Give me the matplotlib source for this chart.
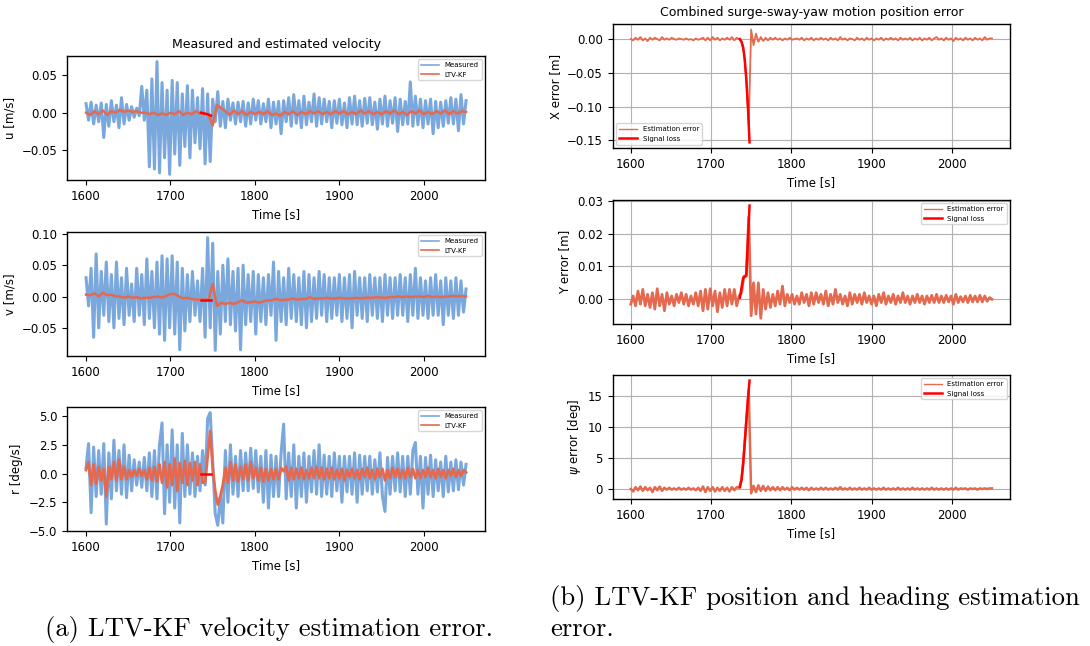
import numpy as np
import matplotlib
matplotlib.use('Agg')
import matplotlib.pyplot as plt

'''Time bases'''
t3 = np.arange(1600, 2051, 3)
t5 = np.arange(1600, 2051, 5)
t_loss = np.arange(1736, 1749, 2)

'''Velocity data (left figure)'''
u_meas = [0.012, -0.010, 0.014, -0.015, 0.010, -0.012, 0.013, -0.033, 0.011, -0.018,
          0.016, -0.012, 0.010, -0.020, 0.020, -0.015, 0.011, -0.010, 0.008, -0.006,
          0.006, -0.004, 0.035, -0.010, 0.030, -0.072, 0.045, -0.075, 0.068, -0.080,
          0.040, -0.060, 0.030, -0.082, 0.043, -0.055, 0.040, -0.070, 0.025, -0.045,
          0.036, -0.060, 0.030, -0.040, 0.020, -0.048, 0.032, -0.068, 0.025, -0.065,
          0.018, -0.012, 0.028, -0.018, 0.015, -0.020, 0.018, -0.010, 0.013, -0.015,
          0.014, -0.012, 0.015, -0.018, 0.013, -0.015, 0.018, -0.010, 0.016, -0.015,
          0.012, -0.012, 0.018, -0.020, 0.014, -0.015, 0.015, -0.028, 0.016, -0.012,
          0.020, -0.018, 0.024, -0.014, 0.016, -0.020, 0.022, -0.016, 0.014, -0.012,
          0.025, -0.018, 0.020, -0.015, 0.018, -0.012, 0.015, -0.020, 0.016, -0.014,
          0.018, -0.016, 0.013, -0.020, 0.020, -0.015, 0.022, -0.016, 0.016, -0.018,
          0.019, -0.014, 0.020, -0.016, 0.014, -0.022, 0.018, -0.015, 0.022, -0.018,
          0.016, -0.014, 0.020, -0.025, 0.018, -0.016, 0.015, -0.015, 0.041, -0.018,
          0.022, -0.016, 0.018, -0.020, 0.016, -0.015, 0.018, -0.028, 0.015, -0.020,
          0.014, -0.018, 0.016, -0.014, 0.020, -0.015, 0.018, -0.024, 0.024, -0.015,
          0.016]
u_est = [0.000, -0.003, 0.002, -0.002, 0.003, -0.003, 0.002, 0.000, 0.004, 0.001,
         0.003, 0.001, 0.002, 0.000, 0.000, -0.002, 0.000, -0.003, -0.001, -0.003,
         0.000, -0.002, 0.002, -0.003, 0.000, -0.002, 0.002, -0.001, -0.002, -0.003,
         -0.017, 0.010, 0.006, 0.002, -0.003, 0.003, -0.002, 0.002, -0.003, 0.001,
         -0.002, 0.001, -0.002, 0.002, -0.003, -0.001, -0.004, 0.001, -0.002, 0.002,
         -0.003, 0.001, -0.002, 0.002, -0.001, 0.002, -0.002, 0.001, -0.002, 0.002,
         -0.001, 0.002, -0.002, 0.001, -0.002, 0.003, -0.001, 0.002, -0.002, 0.001,
         -0.002, 0.002, -0.001, 0.003, -0.002, 0.001, -0.003, 0.002, -0.001, 0.003,
         -0.002, 0.001, -0.002, 0.002, -0.001, 0.003, -0.002, 0.002, -0.001, 0.002,
         0.001]
u_loss = [0.000, -0.0005, -0.001, -0.0015, -0.002, -0.003, -0.004]

v_meas = [0.030, -0.015, 0.045, -0.065, 0.068, -0.050, 0.040, -0.030, 0.055, -0.040,
          0.035, -0.050, 0.055, -0.035, 0.030, -0.045, 0.045, -0.030, 0.020, -0.040,
          0.045, -0.030, 0.035, -0.045, 0.060, -0.035, 0.040, -0.050, 0.055, -0.060,
          0.065, -0.070, 0.060, -0.050, 0.065, -0.060, 0.055, -0.085, 0.045, -0.055,
          0.035, -0.040, 0.040, -0.030, 0.025, -0.040, 0.045, -0.065, 0.094, -0.050,
          0.085, -0.086, 0.040, -0.060, 0.050, -0.040, 0.060, -0.045, 0.040, -0.055,
          0.045, -0.085, 0.050, -0.045, 0.035, -0.040, 0.040, -0.060, 0.035, -0.040,
          0.030, -0.045, 0.035, -0.030, 0.055, -0.070, 0.040, -0.040, 0.030, -0.045,
          0.045, -0.035, 0.035, -0.040, 0.030, -0.045, 0.040, -0.050, 0.035, -0.040,
          0.030, -0.035, 0.040, -0.030, 0.035, -0.040, 0.030, -0.035, 0.030, -0.030,
          0.035, -0.040, 0.030, -0.035, 0.035, -0.050, 0.040, -0.030, 0.030, -0.035,
          0.030, -0.040, 0.035, -0.030, 0.030, -0.035, 0.030, -0.040, 0.035, -0.030,
          0.030, -0.035, 0.030, -0.030, 0.035, -0.030, 0.030, -0.040, 0.035, -0.030,
          0.045, -0.035, 0.030, -0.030, 0.025, -0.035, 0.030, -0.030, 0.035, -0.030,
          0.025, -0.045, 0.030, -0.030, 0.025, -0.035, 0.030, -0.030, 0.025, -0.025,
          0.012]
v_est = [0.003, 0.002, 0.005, 0.000, 0.006, 0.002, 0.003, 0.000, 0.000, -0.002,
         0.000, -0.002, -0.001, -0.003, -0.002, -0.002, -0.001, 0.000, -0.002, 0.001,
         0.004, 0.004, 0.000, -0.003, -0.002, -0.004, -0.005, -0.005, -0.005, -0.005,
         0.020, -0.015, -0.010, -0.012, -0.010, -0.012, -0.009, -0.006, -0.010, -0.009,
         -0.008, -0.010, -0.008, -0.006, -0.006, -0.004, -0.006, -0.005, -0.005, -0.003,
         -0.005, -0.004, -0.004, -0.001, -0.004, -0.003, -0.003, -0.002, -0.003, -0.003,
         -0.002, -0.003, -0.003, -0.003, -0.002, -0.003, -0.002, -0.002, -0.002, -0.001,
         -0.002, -0.002, -0.001, -0.001, 0.000, -0.001, 0.000, -0.001, 0.000, 0.000,
         -0.001, 0.001, -0.001, 0.000, -0.001, 0.000, 0.000, 0.001, 0.000, 0.001,
         0.000]
v_loss = [-0.005, -0.005, -0.005, -0.005, -0.005, -0.005, -0.005]

r_meas = [0.5, 2.6, -3.4, 2.3, -2.0, 2.0, -1.8, 2.6, -4.4, 1.8,
          -2.2, 2.9, -1.5, 2.0, -1.8, 2.5, -2.1, 1.6, -1.5, 1.2,
          -1.0, 1.0, -1.2, 1.4, -1.5, 1.8, -2.0, 2.0, -2.2, 2.5,
          4.4, -3.5, 2.5, -2.5, 3.8, -3.0, 2.5, -4.3, 3.5, -2.0,
          2.5, -1.8, 1.8, -2.0, 1.5, -1.5, 2.0, -1.0, 4.8, 5.3,
          1.0, -3.5, -4.5, -2.0, -4.3, 2.0, -2.5, 2.5, -1.8, 1.5,
          -2.0, 2.0, -1.5, 1.8, -1.5, 2.2, -1.3, 2.0, -1.6, 1.5,
          -2.5, 2.0, -3.0, 1.6, -2.0, 1.5, -2.0, 1.8, 4.3, -2.2,
          1.8, -2.0, 2.5, -3.0, 1.5, -2.0, 1.8, -2.5, 1.5, -1.6,
          2.0, -1.8, 2.5, -2.0, 1.6, -1.8, 1.5, -2.0, 1.8, -1.5,
          1.5, -2.5, 1.5, -1.6, 1.5, -1.8, 1.8, -2.5, 1.6, -1.8,
          1.5, -1.5, 1.5, -1.8, 1.2, -1.6, 1.8, -2.0, -3.3, 1.4,
          -1.8, 1.5, -1.5, 1.8, -1.6, 1.5, -2.0, 1.5, -1.8, 2.0,
          2.7, -1.8, 1.5, -3.0, 1.4, -1.8, 1.6, -2.0, 1.2, -1.5,
          1.0, -2.0, 1.5, -1.6, 1.0, -1.5, 1.2, -1.4, 1.0, -1.0,
          0.8]
r_est = [0.3, 1.0, -1.0, 0.8, -0.9, 0.6, -0.6, 0.4, -2.0, 0.6,
         -0.5, 1.0, -0.6, 1.2, -0.5, 0.6, -0.5, 0.3, -0.3, 0.3,
         -0.2, 0.4, -0.2, 0.3, -0.5, 0.5, -0.6, 0.6, -0.7, 0.8,
         -0.8, 1.0, -1.2, 0.8, -1.0, 1.3, -1.5, 0.9, -0.8, 1.1,
         -1.0, 0.9, -0.6, 1.0, -1.0, 0.8, -0.8, -0.8, 1.5, 3.7,
         0.5, -1.5, -2.7, -2.0, -1.0, 0.5, -0.8, 1.0, -0.6, 0.8,
         -0.7, 0.6, -0.5, 0.8, -0.6, 1.0, -0.4, 0.5, -0.6, 0.5,
         -0.7, 0.4, -0.6, 0.4, -0.5, 0.4, -0.5, 0.5, 0.2, 0.6,
         -0.6, 0.5, -0.5, 0.4, -0.4, 0.5, -0.5, 0.3, -0.4, 0.5,
         -0.4, 0.6, -0.4, 0.5, -0.5, 0.4, -0.4, 0.5, -0.5, 0.3,
         -0.4, 0.4, -0.6, 0.3, -0.3, 0.4, -0.4, 0.3, -0.5, 0.4,
         -0.3, 0.5, -0.4, 0.3, -0.5, 0.4, -0.3, 0.4, -0.6, 0.3,
         -0.4, 0.5, -0.3, 0.4, -0.4, 0.3, -0.4, 0.5, -0.3, 0.4,
         -0.4, 0.3, -0.4, 0.3, -0.3, 0.5, -0.3, 0.3, -0.4, 0.4,
         -0.3, 0.3, -0.4, 0.3, -0.2, 0.4, -0.3, 0.3, -0.2, 0.3,
         0.1]
r_loss = [0.0, 0.0, 0.0, 0.0, 0.0, 0.0, 0.0]

'''Position / heading error data (right figure)'''
x_err = [0.000, -0.002, 0.002, -0.001, 0.003, -0.002, 0.001, -0.003, 0.002, -0.001,
         0.002, 0.000, -0.002, 0.003, -0.001, 0.001, -0.001, 0.002, 0.000, -0.001,
         0.001, 0.000, -0.001, 0.001, -0.001, 0.000, -0.002, 0.001, -0.001, 0.000,
         0.002, -0.002, 0.002, -0.002, 0.003, -0.001, 0.002, -0.002, 0.001, -0.001,
         0.002, -0.001, 0.003, -0.002, 0.002, 0.000, -0.004, -0.020, -0.060, -0.128,
         0.014, -0.009, 0.008, -0.004, 0.003, -0.003, 0.002, -0.002, 0.002, -0.001,
         0.002, -0.001, 0.001, -0.002, 0.001, -0.001, 0.002, -0.001, 0.000, 0.001,
         -0.001, 0.002, -0.002, 0.001, -0.001, 0.002, -0.002, 0.001, -0.001, 0.002,
         -0.001, 0.001, -0.002, 0.002, -0.001, 0.001, -0.002, 0.003, -0.001, 0.001,
         -0.002, 0.001, 0.000, -0.002, 0.002, -0.001, 0.001, -0.002, 0.002, -0.001,
         0.001, -0.002, 0.001, -0.001, 0.002, -0.002, 0.001, -0.001, 0.002, -0.001,
         0.001, -0.002, 0.002, -0.001, 0.001, -0.001, 0.002, -0.002, 0.001, -0.001,
         0.002, -0.002, 0.001, -0.001, 0.002, -0.002, 0.001, 0.003, -0.001, 0.001,
         -0.002, 0.002, -0.001, 0.001, -0.003, 0.002, -0.001, 0.001, -0.002, 0.002,
         -0.001, 0.001, -0.002, 0.002, -0.001, 0.001, -0.002, 0.003, -0.001, 0.001,
         0.001]
x_loss = [0.000, -0.004, -0.012, -0.030, -0.060, -0.100, -0.153]

y_err = [-0.0015, 0.0010, -0.0020, 0.0025, -0.0015, 0.0030, -0.0020, 0.0015, -0.0025, 0.0020,
         -0.0030, 0.0032, -0.0020, 0.0015, -0.0035, 0.0020, -0.0015, 0.0010, -0.0020, 0.0015,
         -0.0010, 0.0020, -0.0015, 0.0015, -0.0020, 0.0010, -0.0015, 0.0020, -0.0020, 0.0025,
         -0.0035, 0.0030, -0.0030, 0.0032, -0.0020, 0.0025, -0.0038, 0.0020, -0.0025, 0.0030,
         -0.0020, 0.0030, -0.0015, 0.0030, -0.0020, 0.0010, 0.0020, 0.0070, 0.0070, 0.0250,
         -0.0050, 0.0050, -0.0045, 0.0050, -0.0058, 0.0030, -0.0030, 0.0020, -0.0025, 0.0015,
         -0.0020, 0.0025, -0.0015, 0.0040, -0.0020, 0.0015, -0.0010, 0.0015, -0.0015, 0.0010,
         -0.0015, 0.0020, -0.0010, 0.0015, -0.0020, 0.0020, -0.0015, 0.0020, -0.0010, 0.0015,
         -0.0015, 0.0025, -0.0020, 0.0015, -0.0015, 0.0030, -0.0010, 0.0015, -0.0015, 0.0010,
         -0.0020, 0.0020, -0.0015, 0.0015, -0.0010, 0.0015, -0.0015, 0.0020, -0.0010, 0.0010,
         -0.0015, 0.0010, -0.0020, 0.0015, -0.0010, 0.0020, -0.0015, 0.0010, -0.0010, 0.0015,
         -0.0015, 0.0010, -0.0010, 0.0020, -0.0010, 0.0010, -0.0015, 0.0010, -0.0010, 0.0015,
         -0.0010, 0.0010, -0.0015, 0.0010, -0.0010, 0.0012, -0.0010, 0.0015, -0.0010, 0.0010,
         -0.0010, 0.0012, -0.0008, 0.0010, -0.0015, 0.0015, -0.0010, 0.0008, -0.0008, 0.0010,
         -0.0010, 0.0012, -0.0008, 0.0010, -0.0008, 0.0012, -0.0008, 0.0010, -0.0006, 0.0005,
         0.0000]
y_loss = [0.0005, 0.0035, 0.0065, 0.0068, 0.0075, 0.0180, 0.0285]

psi_err = [0.0, -0.4, 0.3, -0.2, 0.4, -0.3, 0.3, -0.2, 0.2, -0.5,
           0.3, -0.2, 0.4, -0.3, 0.2, -0.1, 0.2, -0.1, 0.1, -0.1,
           0.2, -0.1, 0.1, -0.1, 0.2, -0.1, 0.1, -0.2, 0.2, -0.3,
           0.4, -0.5, 0.3, -0.3, 0.3, -0.4, 0.2, -0.3, 0.3, -0.3,
           0.2, -0.4, 0.3, -0.2, 0.3, 0.2, 1.5, 5.5, 11.0, 16.0,
           -0.7, 0.5, -0.5, 0.6, -0.3, 0.5, -0.3, 0.4, -0.2, 0.3,
           -0.2, 0.3, -0.2, 0.3, -0.1, 0.2, -0.2, 0.3, -0.1, 0.2,
           -0.1, 0.2, -0.1, 0.2, -0.2, 0.2, -0.1, 0.1, -0.1, 0.2,
           -0.1, 0.2, -0.1, 0.1, -0.1, 0.2, -0.1, 0.3, -0.1, 0.1,
           -0.1, 0.2, -0.1, 0.1, -0.1, 0.2, -0.1, 0.1, -0.1, 0.2,
           -0.1, 0.1, -0.1, 0.1, -0.1, 0.2, -0.1, 0.1, -0.1, 0.1,
           -0.1, 0.2, -0.1, 0.1, -0.1, 0.1, -0.1, 0.2, -0.1, 0.1,
           -0.1, 0.1, -0.1, 0.1, -0.1, 0.2, -0.1, 0.1, -0.1, 0.1,
           -0.1, 0.1, -0.1, 0.1, -0.1, 0.2, -0.1, 0.1, 0.0, 0.1,
           -0.1, 0.1, 0.0, 0.1, -0.1, 0.1, 0.0, 0.1, 0.0, 0.1,
           0.1]
psi_loss = [0.3, 1.5, 4.0, 7.5, 11.0, 14.5, 17.5]

C_MEAS = '#7aa8dc'
C_EST = '#e4694f'
C_LOSS = '#ff0000'

plt.rcParams['font.size'] = 8.5
plt.rcParams['axes.linewidth'] = 1.0

fig = plt.figure(figsize=(10.9, 6.46), dpi=100)

'''Left figure: measured and estimated velocity'''
left_rows = [(0.7214, u_meas, u_est, u_loss, 'u [m/s]'),
             (0.4489, v_meas, v_est, v_loss, 'v [m/s]'),
             (0.1780, r_meas, r_est, r_loss, 'r [deg/s]')]
for k, (bot, meas, est, loss, lab) in enumerate(left_rows):
    ax = fig.add_axes([0.0615, bot, 0.3835, 0.192])
    ax.plot(t3, meas, color=C_MEAS, lw=2.2, label='Measured')
    if len(est) == len(t5):
        ax.plot(t5, est, color=C_EST, lw=1.8, label='LTV-KF')
    else:
        ax.plot(t3, est, color=C_EST, lw=2.0, label='LTV-KF')
    ax.plot(t_loss, loss, color=C_LOSS, lw=1.8)
    ax.set_ylabel(lab)
    ax.set_xlabel('Time [s]')
    ax.set_xticks([1600, 1700, 1800, 1900, 2000])
    leg = ax.legend(loc='upper right', fontsize=5, handlelength=2.6)
    for ln in leg.get_lines():
        ln.set_linewidth(1.2)
    if k == 0:
        ax.set_title('Measured and estimated velocity', fontsize=9)
    if k == 2:
        ax.set_yticks([-5.0, -2.5, 0.0, 2.5, 5.0])

'''Right figure: position and heading error'''
right_rows = [(0.7709, x_err, x_loss, 'X error [m]', 'lower left', 1.3),
              (0.4985, y_err, y_loss, 'Y error [m]', 'upper right', 2.0),
              (0.2276, psi_err, psi_loss, r'$\psi$ error [deg]', 'upper right', 1.8)]
for k, (bot, err, loss, lab, loc, w) in enumerate(right_rows):
    ax = fig.add_axes([0.5621, bot, 0.3645, 0.192])
    ax.plot(t3, err, color=C_EST, lw=w, label='Estimation error')
    ax.plot(t_loss, loss, color=C_LOSS, lw=1.8, label='Signal loss')
    ax.grid(True, color='#b0b0b0', lw=0.8)
    ax.set_ylabel(lab)
    ax.set_xlabel('Time [s]')
    ax.set_xticks([1600, 1700, 1800, 1900, 2000])
    leg = ax.legend(loc=loc, fontsize=5, handlelength=2.6)
    leg.get_lines()[0].set_linewidth(1.0)
    if k == 0:
        ax.set_title('Combined surge-sway-yaw motion position error', fontsize=9)
        ax.set_yticks([-0.15, -0.10, -0.05, 0.00])
    if k == 1:
        ax.set_yticks([0.00, 0.01, 0.02, 0.03])

'''Captions'''
fig.text(0.247, 0.026, '(a) LTV-KF velocity estimation error.', family='cmr10',
         fontsize=19.2, ha='center', va='center')
fig.text(0.5046, 0.0743, '(b) LTV-KF position and heading estimation', family='cmr10',
         fontsize=19.2, ha='left', va='center')
fig.text(0.5046, 0.026, 'error.', family='cmr10', fontsize=19.2, ha='left', va='center')

plt.savefig('out.png', dpi=100)
